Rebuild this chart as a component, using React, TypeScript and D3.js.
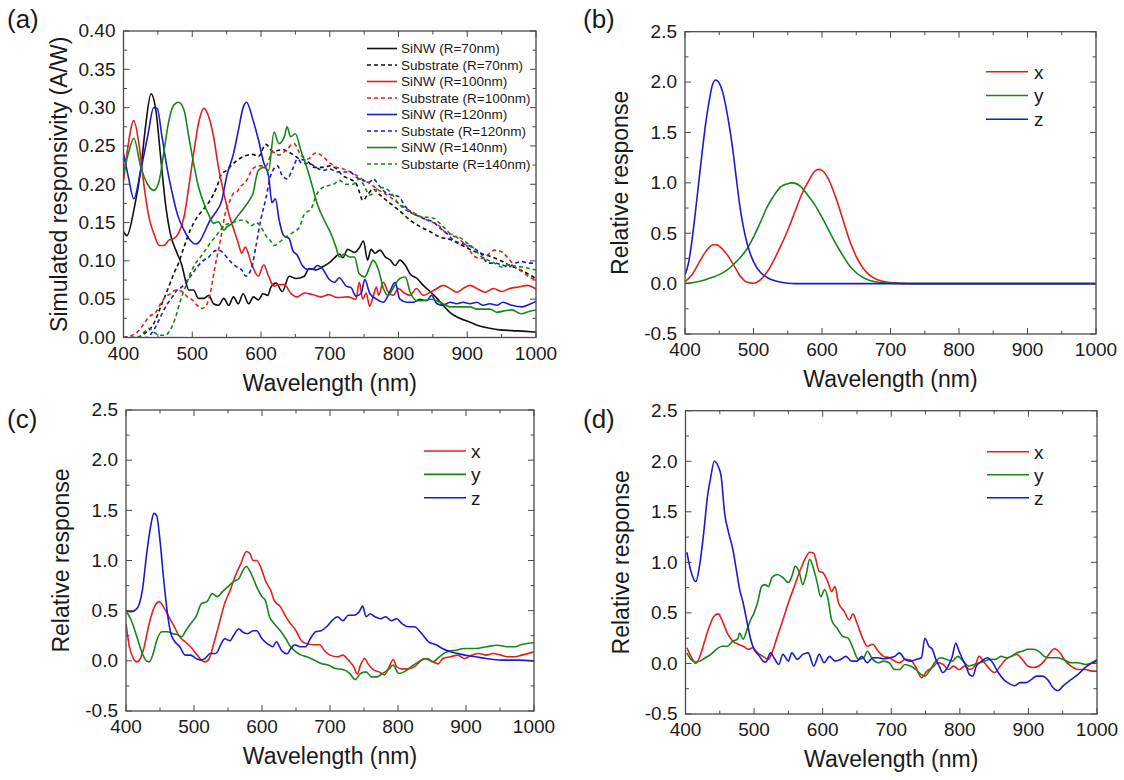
import React from 'react';
import * as d3 from 'd3';

type Pt = [number, number];

const FONT = "'Liberation Sans', Arial, Helvetica, sans-serif";
const RED = '#e3201c';
const GREEN = '#17861a';
const BLUE = '#1b1bd0';
const BLACK = '#111111';

// ---------- shared axes ----------
const xTicks = [400, 500, 600, 700, 800, 900, 1000];
const yTicksA = [0, 0.05, 0.1, 0.15, 0.2, 0.25, 0.3, 0.35, 0.4];
const yTicksR = [-0.5, 0, 0.5, 1.0, 1.5, 2.0, 2.5];

// ---------- panel (a) ----------
const aSiNW70: Pt[] = [[400,.138],[405,.133],[415,.166],[425,.218],[432,.275],[440,.318],[447,.297],[454,.236],[461,.175],[468,.136],[478,.11],[485,.094],[490,.075],[495,.062],[502,.062],[509,.051],[517,.051],[524,.055],[531,.044],[538,.042],[546,.051],[553,.042],[560,.053],[567,.044],[574,.057],[582,.044],[589,.053],[596,.049],[603,.057],[610,.055],[614,.065],[622,.071],[631,.06],[641,.08],[651,.077],[663,.08],[670,.09],[680,.088],[689,.092],[700,.098],[707,.104],[714,.109],[719,.104],[726,.115],[736,.111],[743,.117],[749,.126],[755,.101],[760,.115],[766,.11],[773,.114],[781,.105],[788,.101],[795,.094],[802,.101],[810,.094],[817,.083],[827,.077],[836,.068],[846,.06],[856,.051],[865,.042],[877,.031],[889,.025],[904,.02],[918,.015],[933,.012],[947,.01],[965,.009],[985,.008],[1000,.007]];
const aSub70: Pt[] = [[400,0],[420,0],[430,.005],[444,.018],[454,.04],[464,.062],[473,.083],[480,.097],[488,.118],[497,.14],[507,.157],[517,.168],[526,.179],[536,.197],[543,.214],[550,.218],[555,.223],[565,.231],[574,.236],[588,.239],[596,.236],[607,.252],[617,.243],[631,.245],[646,.239],[656,.233],[666,.231],[678,.222],[690,.222],[700,.224],[710,.22],[719,.211],[729,.207],[739,.2],[743,.19],[748,.179],[755,.186],[763,.194],[773,.186],[788,.175],[802,.165],[817,.153],[831,.145],[846,.138],[860,.131],[875,.128],[889,.122],[904,.115],[918,.11],[933,.106],[947,.101],[960,.095],[980,.087],[1000,.077]];
const aSiNW100: Pt[] = [[400,.205],[405,.24],[415,.283],[423,.249],[430,.197],[437,.157],[444,.136],[452,.12],[459,.12],[466,.127],[473,.129],[480,.136],[488,.157],[495,.197],[502,.24],[509,.279],[517,.299],[524,.288],[531,.262],[538,.223],[546,.188],[553,.162],[560,.142],[567,.123],[572,.11],[577,.118],[586,.097],[596,.08],[604,.095],[611,.08],[619,.067],[626,.069],[634,.069],[643,.058],[653,.053],[663,.058],[675,.056],[687,.053],[699,.056],[711,.052],[726,.053],[738,.05],[743,.072],[748,.05],[753,.058],[758,.041],[763,.053],[768,.066],[771,.055],[778,.072],[785,.059],[792,.055],[800,.064],[807,.059],[817,.055],[826,.064],[836,.055],[846,.059],[856,.064],[865,.068],[875,.064],[885,.059],[894,.064],[904,.068],[914,.064],[926,.059],[938,.064],[950,.06],[962,.064],[975,.066],[988,.068],[1000,.063]];
const aSub100: Pt[] = [[400,0],[410,.002],[420,.007],[430,.018],[437,.027],[447,.033],[454,.044],[461,.053],[468,.057],[476,.062],[485,.06],[493,.053],[500,.049],[507,.042],[514,.038],[519,.04],[526,.057],[533,.092],[541,.127],[548,.162],[555,.179],[560,.188],[565,.19],[570,.197],[574,.2],[579,.205],[588,.22],[598,.224],[607,.224],[617,.242],[626,.238],[636,.244],[648,.253],[658,.238],[668,.233],[680,.241],[690,.236],[700,.228],[710,.222],[720,.22],[730,.216],[740,.211],[750,.205],[760,.2],[770,.193],[780,.188],[790,.182],[800,.175],[810,.169],[820,.164],[840,.154],[860,.145],[870,.136],[880,.134],[890,.127],[900,.119],[910,.106],[920,.103],[930,.108],[940,.114],[950,.112],[960,.103],[970,.092],[980,.086],[990,.079],[1000,.075]];
const aSiNW120: Pt[] = [[400,.24],[407,.21],[415,.181],[425,.218],[435,.262],[444,.3],[449,.299],[456,.262],[464,.218],[471,.188],[478,.162],[488,.14],[497,.127],[505,.122],[512,.127],[519,.14],[526,.153],[533,.162],[543,.179],[550,.21],[560,.24],[567,.27],[574,.3],[579,.307],[588,.285],[596,.259],[604,.228],[611,.211],[616,.176],[621,.181],[626,.155],[633,.133],[641,.129],[646,.114],[653,.107],[660,.094],[668,.089],[675,.089],[682,.094],[690,.089],[699,.076],[707,.072],[714,.078],[724,.067],[731,.065],[738,.054],[746,.058],[751,.076],[758,.058],[768,.05],[778,.046],[785,.055],[795,.072],[802,.05],[812,.046],[822,.046],[831,.05],[841,.048],[848,.055],[856,.044],[865,.042],[875,.046],[885,.044],[894,.046],[904,.044],[914,.046],[923,.042],[933,.044],[943,.042],[952,.046],[965,.042],[980,.04],[990,.043],[1000,.047]];
const aSub120: Pt[] = [[400,0],[435,0],[442,.007],[449,.018],[456,.031],[464,.044],[471,.053],[478,.062],[485,.066],[493,.075],[500,.083],[507,.092],[517,.101],[524,.105],[531,.112],[538,.114],[543,.112],[550,.105],[558,.097],[565,.092],[572,.088],[578,.08],[586,.09],[593,.121],[600,.155],[607,.181],[614,.211],[624,.224],[631,.211],[638,.207],[646,.22],[653,.233],[660,.227],[670,.227],[680,.222],[690,.218],[700,.22],[710,.216],[719,.216],[729,.216],[739,.209],[748,.205],[758,.203],[763,.207],[772,.198],[780,.19],[790,.186],[800,.184],[810,.171],[820,.162],[830,.158],[840,.154],[850,.151],[860,.143],[870,.136],[880,.127],[890,.123],[900,.121],[910,.116],[920,.11],[930,.097],[940,.097],[950,.095],[960,.092],[970,.097],[980,.099],[990,.097],[1000,.097]];
const aSiNW140: Pt[] = [[400,.214],[407,.24],[415,.26],[425,.223],[435,.2],[444,.192],[452,.205],[459,.244],[466,.283],[473,.303],[480,.307],[488,.297],[495,.262],[502,.227],[509,.197],[517,.175],[524,.16],[531,.149],[538,.151],[546,.14],[550,.144],[558,.149],[565,.157],[576,.17],[583,.179],[588,.187],[596,.218],[604,.222],[611,.218],[619,.268],[626,.253],[634,.262],[638,.275],[643,.262],[650,.266],[658,.244],[668,.218],[675,.196],[682,.174],[692,.153],[702,.135],[709,.118],[714,.105],[721,.109],[729,.105],[736,.105],[743,.083],[751,.079],[758,.092],[763,.101],[771,.088],[778,.064],[785,.055],[792,.064],[802,.077],[810,.079],[817,.059],[827,.048],[836,.048],[846,.05],[856,.048],[865,.044],[875,.04],[885,.04],[894,.04],[904,.04],[914,.037],[923,.037],[933,.037],[943,.033],[955,.035],[965,.036],[978,.031],[990,.034],[1000,.036]];
const aSub140: Pt[] = [[400,0],[420,0],[430,.007],[437,.012],[444,.007],[454,.003],[461,.003],[468,.01],[476,.027],[483,.049],[490,.066],[497,.083],[505,.097],[512,.105],[519,.114],[526,.123],[533,.131],[541,.14],[548,.147],[555,.149],[562,.151],[570,.153],[578,.152],[586,.146],[593,.15],[600,.144],[607,.133],[614,.126],[619,.12],[626,.124],[636,.131],[646,.137],[656,.144],[663,.161],[673,.168],[680,.185],[687,.194],[697,.198],[706,.2],[714,.205],[724,.2],[734,.2],[743,.207],[750,.198],[758,.186],[765,.19],[772,.196],[780,.195],[790,.188],[800,.175],[810,.167],[820,.162],[830,.158],[840,.157],[850,.156],[860,.149],[870,.14],[880,.132],[890,.13],[900,.123],[910,.116],[920,.106],[930,.101],[940,.097],[950,.092],[960,.095],[970,.093],[980,.092],[990,.09],[1000,.088]];

const aNames = ['SiNW (R=70nm)', 'Substrate (R=70nm)', 'SiNW (R=100nm)', 'Substrate (R=100nm)', 'SiNW (R=120nm)', 'Substate (R=120nm)', 'SiNW (R=140nm)', 'Substarte (R=140nm)'];

// ---------- panel (b) ----------
const bX: Pt[] = [[400,.019],[410,.085],[420,.204],[430,.315],[440,.384],[445,.387],[450,.371],[460,.302],[470,.196],[480,.081],[490,.016],[500,.004],[510,.037],[520,.118],[530,.236],[540,.377],[550,.53],[560,.705],[570,.879],[580,1.014],[590,1.118],[595,1.134],[600,1.124],[610,1.03],[620,.856],[630,.647],[640,.432],[650,.268],[660,.153],[670,.081],[680,.041],[690,.02],[700,.01],[710,.005],[720,.002],[730,0],[1000,0]];
const bY: Pt[] = [[400,.002],[410,.009],[420,.021],[430,.039],[440,.062],[450,.089],[460,.128],[470,.185],[480,.254],[490,.339],[500,.461],[510,.607],[520,.762],[530,.875],[540,.962],[550,.992],[555,1.0],[560,.997],[570,.956],[580,.869],[590,.777],[600,.658],[610,.528],[620,.398],[630,.283],[640,.18],[650,.108],[660,.06],[670,.032],[680,.016],[690,.008],[700,.004],[710,.002],[720,0],[1000,0]];
const bZ: Pt[] = [[400,.086],[405,.2],[410,.42],[415,.7],[420,1.0],[425,1.3],[430,1.58],[435,1.8],[440,1.97],[445,2.02],[450,1.99],[455,1.9],[460,1.745],[465,1.55],[470,1.318],[475,1.04],[480,.772],[485,.57],[490,.415],[500,.218],[510,.112],[520,.061],[530,.03],[540,.014],[550,.004],[560,0],[1000,0]];

// ---------- panel (c) ----------
const cX: Pt[] = [[400,.37],[405,.14],[411,.023],[416,-.01],[421,.023],[426,.12],[434,.37],[442,.54],[449,.59],[455,.54],[463,.44],[471,.34],[479,.24],[487,.19],[495,.14],[503,.073],[511,.007],[516,-.01],[521,.007],[529,.17],[537,.37],[545,.57],[553,.7],[561,.85],[569,.97],[577,1.09],[582,1.07],[587,1.0],[592,1.0],[600,.9],[605,.8],[613,.7],[618,.6],[627,.54],[635,.44],[642,.37],[650,.3],[658,.2],[666,.17],[677,.16],[685,.16],[692,.1],[700,.057],[711,.04],[719,.057],[727,.007],[735,-.06],[740,-.13],[745,-.04],[751,.023],[756,-.03],[764,-.09],[772,-.11],[780,-.14],[787,-.06],[793,.013],[798,-.06],[806,-.08],[814,-.08],[824,-.06],[835,.007],[843,.023],[851,-.01],[859,-.03],[866,.023],[877,.04],[888,.057],[898,.023],[909,.057],[919,.073],[930,.057],[940,.073],[951,.057],[961,.04],[972,.04],[982,.057],[1000,.09]];
const cY: Pt[] = [[400,.5],[408,.4],[416,.24],[424,.073],[430,0],[434,-.01],[440,.073],[445,.2],[453,.29],[461,.29],[469,.27],[476,.26],[482,.24],[487,.29],[495,.37],[503,.44],[511,.57],[519,.59],[527,.67],[534,.64],[542,.69],[550,.74],[558,.79],[566,.82],[571,.89],[577,.94],[584,.87],[592,.74],[600,.64],[605,.6],[611,.44],[618,.37],[627,.3],[635,.22],[642,.14],[650,.09],[658,.057],[666,.04],[677,.007],[687,-.027],[698,-.043],[708,-.076],[719,-.086],[729,-.126],[737,-.186],[745,-.126],[753,-.11],[761,-.16],[769,-.16],[777,-.126],[785,-.093],[793,-.043],[801,-.126],[809,-.11],[819,-.06],[830,-.01],[840,.023],[851,-.01],[861,.04],[872,.09],[885,.106],[898,.123],[914,.123],[930,.14],[946,.156],[961,.14],[972,.14],[982,.163],[1000,.18]];
const cZ: Pt[] = [[400,.5],[408,.49],[416,.52],[424,.7],[431,1.1],[437,1.37],[441,1.47],[445,1.45],[450,1.2],[455,.84],[461,.47],[466,.27],[471,.2],[479,.14],[487,.057],[495,.057],[503,.023],[511,.007],[516,.023],[524,.073],[532,.073],[540,.17],[545,.22],[553,.2],[558,.25],[566,.32],[571,.29],[579,.27],[587,.3],[592,.3],[600,.22],[608,.17],[616,.14],[621,.19],[629,.1],[637,.07],[642,.12],[648,.16],[656,.14],[664,.14],[671,.22],[679,.29],[687,.3],[695,.34],[703,.4],[711,.44],[719,.4],[727,.455],[735,.455],[743,.49],[748,.545],[753,.44],[759,.47],[766,.44],[774,.42],[782,.44],[790,.4],[798,.42],[806,.37],[814,.34],[824,.34],[835,.27],[845,.19],[856,.16],[866,.12],[877,.09],[888,.073],[898,.057],[914,.04],[930,.023],[951,.007],[977,.007],[1000,0]];

// ---------- panel (d) ----------
const dX: Pt[] = [[402,.155],[408,.07],[415,0],[421,.07],[427,.2],[435,.37],[442,.47],[448,.49],[453,.43],[461,.3],[469,.22],[477,.19],[484,.17],[492,.14],[498,.155],[505,.105],[513,.07],[521,.04],[526,.105],[534,.27],[542,.43],[550,.6],[558,.75],[566,.9],[574,1.03],[581,1.1],[587,1.09],[595,.91],[600,.9],[608,.8],[613,.71],[618,.76],[623,.6],[631,.52],[639,.43],[644,.49],[650,.4],[657,.27],[665,.17],[673,.19],[681,.12],[689,.07],[697,.056],[705,.023],[712,.007],[720,.04],[728,.033],[736,-.04],[744,-.14],[752,-.076],[760,-.04],[768,.007],[776,-.01],[783,-.06],[791,-.026],[799,-.06],[807,-.026],[815,-.06],[823,-.01],[828,.07],[836,.007],[844,-.06],[851,-.09],[859,-.026],[867,.04],[875,.07],[883,.09],[891,.04],[899,-.026],[907,-.04],[915,-.026],[923,.023],[930,.09],[938,.145],[946,.105],[954,.023],[962,-.026],[972,-.06],[983,-.06],[993,-.076],[1000,-.076]];
const dY: Pt[] = [[402,.105],[408,.04],[415,.013],[421,.023],[429,.056],[437,.09],[445,.14],[453,.17],[461,.17],[469,.22],[476,.24],[479,.3],[484,.24],[490,.34],[495,.43],[500,.5],[505,.6],[511,.76],[516,.78],[521,.76],[526,.85],[534,.88],[542,.85],[550,.8],[555,.86],[560,.96],[566,.9],[571,.78],[576,.88],[581,1.03],[587,.93],[592,.8],[597,.66],[603,.73],[608,.63],[613,.43],[621,.35],[629,.27],[637,.25],[644,.155],[652,.04],[660,.056],[665,.12],[673,.04],[681,.007],[689,.023],[697,.007],[705,-.06],[712,-.06],[720,-.01],[728,-.026],[736,-.06],[744,-.11],[749,-.125],[757,-.06],[765,.023],[773,.056],[781,.04],[789,.023],[797,.07],[805,.023],[813,-.026],[821,-.01],[829,.007],[836,.023],[844,.04],[852,.04],[860,.07],[868,.056],[875,.07],[883,.105],[891,.12],[899,.14],[907,.14],[915,.12],[923,.07],[930,.056],[941,.056],[951,.04],[962,.007],[972,.007],[983,-.01],[993,.007],[1000,.04]];
const dZ: Pt[] = [[402,1.1],[408,.91],[415,.81],[421,.99],[427,1.32],[432,1.65],[437,1.85],[442,2.0],[447,1.96],[452,1.85],[457,1.49],[463,1.29],[469,1.13],[474,.93],[479,.73],[484,.6],[490,.4],[495,.24],[500,.14],[508,.07],[513,.023],[517,.013],[524,.105],[529,.056],[536,-.01],[542,.09],[550,.023],[555,.105],[563,.04],[571,.09],[579,.105],[587,-.026],[595,.09],[602,.007],[610,.07],[618,.023],[626,.04],[634,.07],[642,.023],[650,.023],[657,.07],[665,.007],[673,.056],[681,.056],[689,.046],[697,.056],[705,.07],[712,.105],[720,.04],[728,.023],[736,.04],[744,.056],[749,.25],[755,.17],[760,.14],[765,.04],[770,-.026],[775,-.09],[783,-.026],[789,.07],[794,.2],[799,.12],[804,.04],[809,-.026],[814,-.11],[819,-.125],[824,-.026],[832,.023],[840,.056],[848,.007],[856,-.09],[864,-.16],[872,-.2],[880,-.22],[888,-.19],[896,-.19],[904,-.16],[912,-.125],[920,-.125],[928,-.16],[936,-.24],[943,-.27],[951,-.22],[962,-.16],[972,-.11],[983,-.04],[993,.007],[1000,.023]];

const xyzNames = ['x', 'y', 'z'];

interface Series { data: Pt[]; color: string; dash?: boolean; name: string }
interface PanelProps {
  id: string;
  left: number; right: number; top: number; bottom: number;
  yTicks: number[]; yFmt: (v: number) => string;
  yTitle: string; label: string; labelX: number; labelY: number;
  series: Series[];
  legX1: number; legX2: number; legTx: number; legY0: number; legDy: number; legFs: number;
}

const AXIS = '#4a4a4a';
const TXT = '#1a1a1a';

function Panel(p: PanelProps) {
  const x = d3.scaleLinear().domain([400, 1000]).range([p.left, p.right]);
  const y = d3.scaleLinear().domain([p.yTicks[0], p.yTicks[p.yTicks.length - 1]]).range([p.bottom, p.top]);
  const line = d3.line<Pt>().x(d => x(d[0])).y(d => y(d[1])).curve(d3.curveMonotoneX);
  const xMinor = xTicks.slice(0, -1).map((t, i) => (t + xTicks[i + 1]) / 2);
  const yMinor = p.yTicks.slice(0, -1).map((t, i) => (t + p.yTicks[i + 1]) / 2);
  const MJ = 6, MN = 3.5;
  const cx = (p.left + p.right) / 2;
  const cy = (p.top + p.bottom) / 2;
  return (
    <g>
      <defs>
        <clipPath id={'clip-' + p.id}>
          <rect x={p.left} y={p.top} width={p.right - p.left} height={p.bottom - p.top} />
        </clipPath>
      </defs>
      <g clipPath={`url(#clip-${p.id})`} fill="none">
        {p.series.map((s, i) => (
          <path key={i} d={line(s.data) || ''} stroke={s.color} strokeWidth={1.6}
            strokeDasharray={s.dash ? '4,3' : undefined} strokeLinejoin="round" />
        ))}
      </g>
      {/* ticks */}
      <g stroke={AXIS} strokeWidth={1}>
        {xTicks.map(t => (
          <g key={'xt' + t}>
            <line x1={x(t)} x2={x(t)} y1={p.bottom} y2={p.bottom - MJ} />
            <line x1={x(t)} x2={x(t)} y1={p.top} y2={p.top + MJ} />
          </g>
        ))}
        {xMinor.map(t => (
          <g key={'xm' + t}>
            <line x1={x(t)} x2={x(t)} y1={p.bottom} y2={p.bottom - MN} />
            <line x1={x(t)} x2={x(t)} y1={p.top} y2={p.top + MN} />
          </g>
        ))}
        {p.yTicks.map(t => (
          <g key={'yt' + t}>
            <line x1={p.left} x2={p.left + MJ} y1={y(t)} y2={y(t)} />
            <line x1={p.right} x2={p.right - MJ} y1={y(t)} y2={y(t)} />
          </g>
        ))}
        {yMinor.map(t => (
          <g key={'ym' + t}>
            <line x1={p.left} x2={p.left + MN} y1={y(t)} y2={y(t)} />
            <line x1={p.right} x2={p.right - MN} y1={y(t)} y2={y(t)} />
          </g>
        ))}
      </g>
      <rect x={p.left} y={p.top} width={p.right - p.left} height={p.bottom - p.top}
        fill="none" stroke={AXIS} strokeWidth={1.3} />
      {/* tick labels */}
      <g fontFamily={FONT} fontSize={19} fill={TXT}>
        {xTicks.map(t => (
          <text key={'xl' + t} x={x(t)} y={p.bottom + 22} textAnchor="middle">{String(t)}</text>
        ))}
        {p.yTicks.map(t => (
          <text key={'yl' + t} x={p.left - 8} y={y(t) + 6.3} textAnchor="end">{p.yFmt(t)}</text>
        ))}
      </g>
      <text x={cx} y={p.bottom + 53} textAnchor="middle" fontFamily={FONT} fontSize={23} fill={TXT}>Wavelength (nm)</text>
      <text transform={`translate(${p.left - 57},${cy}) rotate(-90)`} textAnchor="middle"
        fontFamily={FONT} fontSize={23} fill={TXT}>{p.yTitle}</text>
      <text x={p.labelX} y={p.labelY} fontFamily={FONT} fontSize={26} fill={TXT}>{p.label}</text>
      {/* legend */}
      <g fontFamily={FONT} fontSize={p.legFs} fill={TXT}>
        {p.series.map((s, i) => (
          <g key={'lg' + i}>
            <line x1={p.legX1} x2={p.legX2} y1={p.legY0 + i * p.legDy} y2={p.legY0 + i * p.legDy}
              stroke={s.color} strokeWidth={1.6} strokeDasharray={s.dash ? '4,3' : undefined} />
            <text x={p.legTx} y={p.legY0 + i * p.legDy + p.legFs * 0.36}>{s.name}</text>
          </g>
        ))}
      </g>
    </g>
  );
}

const fmtA = (v: number) => v.toFixed(2);
const fmtR = (v: number) => v.toFixed(1);

export default function App() {
  const seriesA: Series[] = [
    { data: aSiNW70, color: BLACK, name: aNames[0] },
    { data: aSub70, color: BLACK, dash: true, name: aNames[1] },
    { data: aSiNW100, color: RED, name: aNames[2] },
    { data: aSub100, color: RED, dash: true, name: aNames[3] },
    { data: aSiNW120, color: BLUE, name: aNames[4] },
    { data: aSub120, color: BLUE, dash: true, name: aNames[5] },
    { data: aSiNW140, color: GREEN, name: aNames[6] },
    { data: aSub140, color: GREEN, dash: true, name: aNames[7] },
  ];
  const mk = (xs: Pt[], ys: Pt[], zs: Pt[]): Series[] => [
    { data: xs, color: RED, name: xyzNames[0] },
    { data: ys, color: GREEN, name: xyzNames[1] },
    { data: zs, color: BLUE, name: xyzNames[2] },
  ];
  return (
    <svg width={1124} height={780} viewBox="0 0 1124 780"
      style={{ position: 'absolute', left: 0, top: 0, background: '#fff' }}>
      <rect x={0} y={0} width={1124} height={780} fill="#fff" />
      <Panel id="a" left={123.5} right={536} top={31} bottom={337.5}
        yTicks={yTicksA} yFmt={fmtA} yTitle="Simulated responsivity (A/W)"
        label="(a)" labelX={7} labelY={28} series={seriesA}
        legX1={367} legX2={397} legTx={401} legY0={48.5} legDy={16.5} legFs={13.5} />
      <Panel id="b" left={685} right={1096} top={31.7} bottom={334}
        yTicks={yTicksR} yFmt={fmtR} yTitle="Relative response"
        label="(b)" labelX={583} labelY={28} series={mk(bX, bY, bZ)}
        legX1={986} legX2={1028} legTx={1034} legY0={71.7} legDy={23.8} legFs={19} />
      <Panel id="c" left={126} right={534} top={410} bottom={711}
        yTicks={yTicksR} yFmt={fmtR} yTitle="Relative response"
        label="(c)" labelX={7} labelY={428} series={mk(cX, cY, cZ)}
        legX1={424} legX2={466} legTx={471} legY0={451} legDy={23.4} legFs={19} />
      <Panel id="d" left={685.5} right={1097} top={410.7} bottom={714}
        yTicks={yTicksR} yFmt={fmtR} yTitle="Relative response"
        label="(d)" labelX={583} labelY={428} series={mk(dX, dY, dZ)}
        legX1={987} legX2={1029} legTx={1034} legY0={451.7} legDy={23} legFs={19} />
    </svg>
  );
}
